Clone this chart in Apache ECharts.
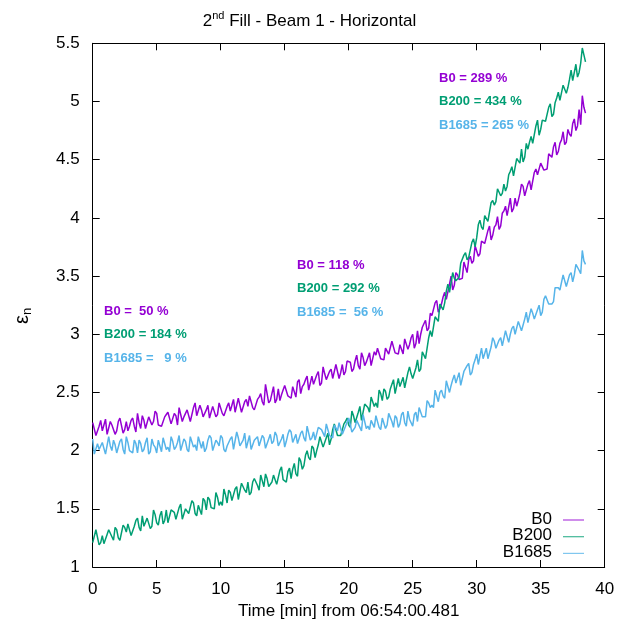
<!DOCTYPE html>
<html>
<head>
<meta charset="utf-8">
<title>2nd Fill - Beam 1 - Horizontal</title>
<script src="https://cdn.jsdelivr.net/npm/echarts@6/dist/echarts.min.js"></script>
<style>
  html, body { margin: 0; padding: 0; background: #fff; }
  #chart { width: 619px; height: 625px; }
</style>
</head>
<body>
<div id="chart"></div>
<script>
// Normalised horizontal emittance, one sample every 0.125 min (eight per row = one minute)
const SAMPLE_STEP_MIN = 0.125;

const emitB0 = [
  2.24, 2.23, 2.13, 2.14, 2.21, 2.26, 2.17, 2.17,
  2.27, 2.14, 2.15, 2.25, 2.22, 2.23, 2.14, 2.17,
  2.25, 2.28, 2.28, 2.15, 2.18, 2.25, 2.17, 2.21,
  2.26, 2.28, 2.21, 2.16, 2.32, 2.24, 2.19, 2.30,
  2.26, 2.19, 2.18, 2.29, 2.30, 2.22, 2.25, 2.34,
  2.32, 2.22, 2.23, 2.21, 2.20, 2.29, 2.31, 2.33,
  2.33, 2.23, 2.23, 2.32, 2.30, 2.22, 2.37, 2.36,
  2.25, 2.29, 2.29, 2.35, 2.35, 2.25, 2.26, 2.37,
  2.41, 2.30, 2.29, 2.39, 2.35, 2.29, 2.28, 2.35,
  2.39, 2.28, 2.27, 2.38, 2.37, 2.29, 2.31, 2.41,
  2.40, 2.32, 2.30, 2.30, 2.38, 2.41, 2.34, 2.39,
  2.44, 2.33, 2.33, 2.45, 2.39, 2.33, 2.32, 2.42,
  2.44, 2.38, 2.47, 2.46, 2.37, 2.35, 2.36, 2.44,
  2.46, 2.49, 2.42, 2.39, 2.57, 2.49, 2.41, 2.43,
  2.49, 2.55, 2.41, 2.44, 2.53, 2.43, 2.48, 2.52,
  2.56, 2.55, 2.47, 2.46, 2.45, 2.55, 2.56, 2.46,
  2.59, 2.61, 2.49, 2.55, 2.57, 2.61, 2.64, 2.52,
  2.53, 2.64, 2.57, 2.58, 2.65, 2.68, 2.56, 2.58,
  2.72, 2.66, 2.61, 2.60, 2.68, 2.70, 2.62, 2.62,
  2.74, 2.75, 2.62, 2.67, 2.74, 2.65, 2.68, 2.77,
  2.78, 2.76, 2.68, 2.70, 2.77, 2.82, 2.73, 2.70,
  2.84, 2.80, 2.73, 2.76, 2.80, 2.84, 2.73, 2.73,
  2.85, 2.82, 2.88, 2.88, 2.79, 2.78, 2.78, 2.88,
  2.88, 2.83, 2.84, 2.94, 2.95, 2.84, 2.83, 2.83,
  2.91, 2.92, 2.83, 2.96, 2.96, 2.87, 2.91, 2.97,
  3.00, 2.88, 2.92, 3.03, 2.92, 3.00, 3.06, 3.09,
  3.12, 3.03, 3.05, 3.18, 3.16, 3.15, 3.27, 3.29,
  3.19, 3.22, 3.26, 3.32, 3.36, 3.30, 3.31, 3.43,
  3.50, 3.38, 3.42, 3.53, 3.51, 3.47, 3.47, 3.48,
  3.62, 3.63, 3.53, 3.64, 3.67, 3.61, 3.63, 3.76,
  3.76, 3.67, 3.69, 3.80, 3.81, 3.78, 3.79, 3.89,
  3.93, 3.81, 3.85, 3.92, 3.94, 4.01, 3.90, 3.93,
  4.04, 4.06, 4.10, 4.02, 4.03, 4.17, 4.05, 4.08,
  4.17, 4.10, 4.15, 4.21, 4.29, 4.27, 4.19, 4.20,
  4.29, 4.32, 4.24, 4.25, 4.39, 4.42, 4.37, 4.38,
  4.47, 4.47, 4.41, 4.41, 4.42, 4.55, 4.55, 4.52,
  4.61, 4.65, 4.54, 4.57, 4.64, 4.67, 4.74, 4.63,
  4.65, 4.76, 4.72, 4.70, 4.81, 4.85, 4.75, 4.79,
  4.93, 4.80, 5.05, 4.95, 4.90
];

const emitB200 = [
  1.21, 1.20, 1.32, 1.32, 1.19, 1.21, 1.27, 1.20,
  1.19, 1.28, 1.32, 1.32, 1.26, 1.23, 1.34, 1.32,
  1.25, 1.23, 1.23, 1.36, 1.34, 1.30, 1.37, 1.36,
  1.27, 1.28, 1.35, 1.40, 1.42, 1.34, 1.31, 1.44,
  1.35, 1.34, 1.42, 1.41, 1.33, 1.35, 1.49, 1.45,
  1.38, 1.36, 1.44, 1.48, 1.37, 1.40, 1.49, 1.38,
  1.37, 1.49, 1.48, 1.47, 1.41, 1.42, 1.51, 1.54,
  1.41, 1.41, 1.50, 1.51, 1.46, 1.47, 1.57, 1.55,
  1.46, 1.44, 1.53, 1.53, 1.45, 1.59, 1.57, 1.49,
  1.60, 1.58, 1.51, 1.52, 1.50, 1.64, 1.60, 1.53,
  1.56, 1.53, 1.67, 1.62, 1.55, 1.66, 1.64, 1.57,
  1.56, 1.67, 1.69, 1.58, 1.65, 1.72, 1.73, 1.66,
  1.64, 1.73, 1.62, 1.64, 1.73, 1.76, 1.76, 1.70,
  1.66, 1.79, 1.74, 1.69, 1.80, 1.76, 1.69, 1.70,
  1.73, 1.79, 1.80, 1.71, 1.70, 1.83, 1.86, 1.75,
  1.75, 1.73, 1.82, 1.85, 1.76, 1.84, 1.89, 1.80,
  1.78, 1.94, 1.91, 1.84, 1.87, 1.96, 2.00, 1.94,
  1.92, 2.04, 2.02, 1.94, 2.00, 2.05, 2.12, 2.12,
  2.03, 2.04, 2.11, 2.15, 2.05, 2.10, 2.18, 2.23,
  2.22, 2.13, 2.14, 2.13, 2.14, 2.23, 2.25, 2.28,
  2.22, 2.20, 2.34, 2.30, 2.24, 2.23, 2.33, 2.38,
  2.26, 2.33, 2.40, 2.40, 2.37, 2.33, 2.46, 2.46,
  2.38, 2.41, 2.37, 2.52, 2.49, 2.43, 2.53, 2.51,
  2.44, 2.46, 2.53, 2.57, 2.61, 2.49, 2.50, 2.62,
  2.55, 2.55, 2.63, 2.54, 2.55, 2.67, 2.72, 2.66,
  2.62, 2.63, 2.71, 2.78, 2.68, 2.70, 2.85, 2.85,
  2.79, 2.88, 2.97, 3.03, 2.98, 2.99, 3.15, 3.14,
  3.11, 3.26, 3.25, 3.21, 3.27, 3.37, 3.43, 3.36,
  3.37, 3.53, 3.48, 3.46, 3.45, 3.49, 3.61, 3.62,
  3.68, 3.70, 3.64, 3.66, 3.67, 3.79, 3.82, 3.75,
  3.83, 3.94, 3.98, 3.92, 3.90, 4.02, 4.02, 3.97,
  3.98, 4.13, 4.15, 4.11, 4.14, 4.25, 4.26, 4.19,
  4.21, 4.29, 4.23, 4.27, 4.37, 4.40, 4.44, 4.36,
  4.37, 4.51, 4.49, 4.47, 4.59, 4.48, 4.52, 4.64,
  4.59, 4.65, 4.70, 4.64, 4.64, 4.79, 4.84, 4.71,
  4.76, 4.84, 4.85, 4.83, 4.83, 4.95, 4.98, 4.87,
  4.89, 4.99, 5.03, 5.08, 5.01, 5.02, 5.14, 5.15,
  5.07, 5.12, 5.19, 5.27, 5.18, 5.19, 5.32, 5.21,
  5.25, 5.33, 5.46, 5.40, 5.34
];

const emitB1685 = [
  2.10, 1.97, 1.98, 2.06, 2.01, 2.01, 2.07, 2.08,
  1.97, 1.96, 2.12, 2.04, 2.00, 2.09, 2.05, 1.98,
  1.99, 2.08, 2.10, 2.01, 1.97, 2.12, 2.07, 2.00,
  2.00, 1.98, 2.09, 2.06, 1.98, 2.09, 2.06, 1.99,
  2.01, 2.07, 2.11, 1.97, 1.99, 2.10, 2.05, 2.03,
  1.98, 2.09, 2.09, 1.99, 2.11, 2.10, 2.01, 2.03,
  1.99, 2.12, 2.08, 2.01, 2.03, 2.07, 2.13, 2.00,
  2.01, 2.10, 2.08, 2.01, 1.99, 2.12, 2.11, 2.03,
  2.05, 2.00, 2.12, 2.11, 2.02, 2.08, 1.99, 2.02,
  2.09, 2.13, 2.11, 2.00, 2.00, 2.09, 2.07, 2.04,
  2.13, 2.11, 2.01, 1.99, 2.04, 2.07, 2.10, 2.12,
  2.01, 2.02, 2.16, 2.11, 2.04, 2.04, 2.09, 2.15,
  2.02, 2.03, 2.13, 2.01, 2.00, 2.09, 2.10, 2.12,
  2.04, 2.03, 2.13, 2.11, 2.02, 2.01, 2.10, 2.14,
  2.06, 2.08, 2.16, 2.13, 2.04, 2.03, 2.10, 2.14,
  2.03, 2.08, 2.14, 2.18, 2.16, 2.07, 2.06, 2.14,
  2.06, 2.07, 2.15, 2.17, 2.11, 2.08, 2.21, 2.20,
  2.09, 2.11, 2.16, 2.09, 2.08, 2.20, 2.20, 2.18,
  2.15, 2.12, 2.23, 2.24, 2.13, 2.12, 2.11, 2.22,
  2.22, 2.17, 2.24, 2.25, 2.14, 2.13, 2.21, 2.22,
  2.28, 2.27, 2.16, 2.17, 2.20, 2.26, 2.26, 2.20,
  2.17, 2.31, 2.32, 2.19, 2.21, 2.18, 2.26, 2.27,
  2.20, 2.30, 2.31, 2.20, 2.18, 2.28, 2.28, 2.19,
  2.22, 2.32, 2.31, 2.25, 2.20, 2.30, 2.28, 2.20,
  2.23, 2.31, 2.33, 2.24, 2.21, 2.34, 2.27, 2.24,
  2.21, 2.31, 2.33, 2.25, 2.37, 2.36, 2.29, 2.28,
  2.29, 2.43, 2.41, 2.37, 2.39, 2.37, 2.52, 2.51,
  2.42, 2.50, 2.52, 2.47, 2.45, 2.60, 2.60, 2.50,
  2.56, 2.61, 2.65, 2.58, 2.57, 2.67, 2.56, 2.57,
  2.68, 2.67, 2.73, 2.75, 2.65, 2.67, 2.74, 2.78,
  2.83, 2.74, 2.74, 2.88, 2.79, 2.78, 2.88, 2.79,
  2.80, 2.89, 2.97, 2.94, 2.88, 2.87, 2.95, 2.97,
  2.90, 2.89, 3.03, 3.04, 2.93, 3.00, 3.05, 3.07,
  3.00, 2.99, 3.11, 3.12, 3.03, 3.08, 3.13, 3.19,
  3.10, 3.10, 3.22, 3.18, 3.13, 3.14, 3.21, 3.25,
  3.16, 3.19, 3.30, 3.33, 3.34, 3.26, 3.27, 3.26,
  3.28, 3.40, 3.40, 3.40, 3.38, 3.37, 3.51, 3.51,
  3.41, 3.41, 3.51, 3.53, 3.45, 3.51, 3.60, 3.61,
  3.55, 3.52, 3.72, 3.63, 3.60
];

const seriesNames = ['B0', 'B200', 'B1685'];
const seriesColors = ['#9400D3', '#009E73', '#56B4E9'];

const xTicks = { min: 0, max: 40, step: 5 };
const yTicks = { min: 1, max: 5.5, step: 0.5 };

// Emittance growth quoted at three moments of the fill
const growthEarly = ['B0 =  50 %', 'B200 = 184 %', 'B1685 =   9 %'];
const growthMid   = ['B0 = 118 %', 'B200 = 292 %', 'B1685 =  56 %'];
const growthLate  = ['B0 = 289 %', 'B200 = 434 %', 'B1685 = 265 %'];

const FONT = '"Liberation Sans", Arial, Helvetica, sans-serif';

function toPairs(values) {
  return values.map((v, i) => [i * SAMPLE_STEP_MIN, v]);
}

const grid = { left: 92.7, right: 14.3, top: 43.3, bottom: 56.7 };

function frameAxis(extra) {
  return Object.assign({
    type: 'value',
    axisLine: { show: true, onZero: false, lineStyle: { color: '#000', width: 1 } },
    axisTick: { show: true, inside: true, length: 7, lineStyle: { color: '#000', width: 1 } },
    splitLine: { show: false },
    minorTick: { show: false }
  }, extra);
}

const chart = echarts.init(document.getElementById('chart'), null, { renderer: 'canvas' });

function annotationBlock(lines, left, top) {
  return lines.map((txt, i) => ({
    type: 'text',
    x: left,
    y: top + i * 23.5,
    style: {
      text: txt,
      fill: seriesColors[i],
      font: 'bold 13px ' + FONT,
      textAlign: 'left',
      textVerticalAlign: 'middle'
    },
    silent: true
  }));
}

function legendBlock(right, top) {
  const items = [];
  seriesNames.forEach((name, i) => {
    const y = top + i * 16.7;
    items.push({
      type: 'text', x: right, y: y,
      style: { text: name, fill: '#000', font: '17px ' + FONT, textAlign: 'right', textVerticalAlign: 'middle' },
      silent: true
    });
    items.push({
      type: 'line',
      shape: { x1: right + 11, y1: y + 1, x2: right + 32, y2: y + 1 },
      style: { stroke: seriesColors[i], lineWidth: 1.2, opacity: 0.75 },
      silent: true
    });
  });
  return items;
}

const option = {
  animation: false,
  backgroundColor: '#fff',
  title: {
    text: '{a|2}{s|nd}{a| Fill - Beam 1 - Horizontal}',
    left: 'center',
    top: 5,
    textStyle: {
      fontWeight: 'normal',
      rich: {
        a: { fontSize: 17, fontFamily: FONT, fontWeight: 'normal', color: '#000', lineHeight: 22 },
        s: { fontSize: 11, fontFamily: FONT, fontWeight: 'normal', color: '#000', lineHeight: 12, verticalAlign: 'top' }
      }
    }
  },
  grid: grid,
  xAxis: [
    frameAxis({
      position: 'bottom',
      min: xTicks.min, max: xTicks.max, interval: xTicks.step,
      axisLabel: { color: '#000', fontSize: 17, fontFamily: FONT, margin: 14 },
      name: 'Time [min] from 06:54:00.481',
      nameLocation: 'middle',
      nameGap: 36,
      nameTextStyle: { color: '#000', fontSize: 17, fontFamily: FONT }
    }),
    frameAxis({
      position: 'top',
      min: xTicks.min, max: xTicks.max, interval: xTicks.step,
      axisLabel: { show: false }
    })
  ],
  yAxis: [
    frameAxis({
      position: 'left',
      min: yTicks.min, max: yTicks.max, interval: yTicks.step,
      axisLabel: { color: '#000', fontSize: 17, fontFamily: FONT, margin: 13 }
    }),
    frameAxis({
      position: 'right',
      min: yTicks.min, max: yTicks.max, interval: yTicks.step,
      axisLabel: { show: false }
    })
  ],
  series: [emitB0, emitB200, emitB1685].map((vals, i) => ({
    name: seriesNames[i],
    type: 'line',
    xAxisIndex: 0,
    yAxisIndex: 0,
    data: toPairs(vals),
    showSymbol: false,
    symbol: 'none',
    sampling: null,
    lineStyle: { color: seriesColors[i], width: 1.5 },
    itemStyle: { color: seriesColors[i] },
    emphasis: { disabled: true }
  })),
  graphic: [
    // vertical axis label: epsilon with subscript n, reading bottom to top
    {
      type: 'group',
      x: 22, y: 316,
      rotation: Math.PI / 2,
      children: [
        { type: 'text', x: 1, y: 0, style: { text: 'ε', font: '20px ' + FONT, fill: '#000', textAlign: 'right', textVerticalAlign: 'middle' } },
        { type: 'text', x: 1, y: 5, style: { text: 'n', font: '13px ' + FONT, fill: '#000', textAlign: 'left', textVerticalAlign: 'middle' } }
      ]
    }
  ]
    .concat(annotationBlock(growthEarly, 104, 311))
    .concat(annotationBlock(growthMid, 297, 265))
    .concat(annotationBlock(growthLate, 439, 78))
    .concat(legendBlock(552, 519))
};

chart.setOption(option);
</script>
</body>
</html>
